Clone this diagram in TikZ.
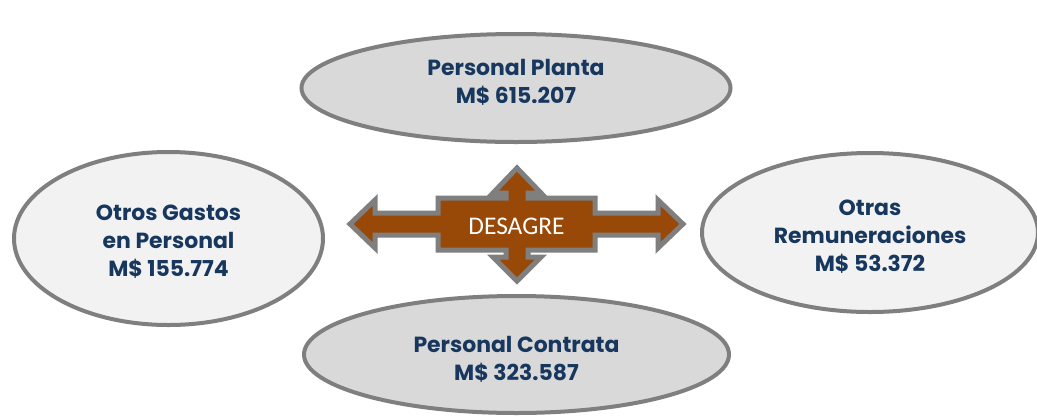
\documentclass[tikz,border=0pt]{standalone}
\usepackage{fontspec}
\setmainfont{Poppins}
\newfontfamily\arrowfont{Carlito}
\usetikzlibrary{shapes.geometric}
\definecolor{rimgray}{HTML}{7F7F7F}
\definecolor{darkfill}{HTML}{D9D9D9}
\definecolor{lightfill}{HTML}{F2F2F2}
\definecolor{navytext}{HTML}{17375E}
\definecolor{rustbrown}{HTML}{984807}

\begin{document}
\begin{tikzpicture}[x=1bp,y=-1bp,
    bubble/.style={ellipse,draw=rimgray,line width=4bp,inner sep=0pt},
    bubbletext/.style={align=center,text=navytext,font=\fontsize{22}{28}\selectfont\bfseries},
    cross/.style={fill=rustbrown,draw=rimgray,line width=5bp,line join=miter}]
            \useasboundingbox[fill=white] (0,0) rectangle (1037,417);

            % four ellipses
            \node[bubble,fill=darkfill,minimum width=429bp,minimum height=108bp] (planta) at (516,88) {};
            \node[bubble,fill=lightfill,minimum width=309bp,minimum height=173bp] (otros) at (168.5,238.5) {};
            \node[bubble,fill=lightfill,minimum width=336bp,minimum height=159bp] (remun) at (870,232.5) {};
            \node[bubble,fill=darkfill,minimum width=425bp,minimum height=117bp] (contrata) at (516.5,354.5) {};

            \node[bubbletext] (planta-txt) at ([yshift=6bp]planta) {Personal Planta\\M\$ 615.207};
            \node[bubbletext] (otros-txt) at ([yshift=-3bp]otros) {Otros Gastos\\en Personal\\M\$ 155.774};
            \node[bubbletext] (remun-txt) at ([yshift=-4bp]remun) {Otras\\Remuneraciones\\M\$ 53.372};
            \node[bubbletext] (contrata-txt) at ([yshift=-5bp]contrata) {Personal Contrata\\M\$ 323.587};

            % cross arrow in the middle
            \draw[cross] (350,224) -- (375,200) -- (375,213) -- (438,213) -- (438,198)
                -- (506,198) -- (506,193) -- (493,193) -- (517,168) -- (541,193)
                -- (528,193) -- (528,198) -- (595,198) -- (595,213) -- (658,213)
                -- (658,200) -- (683,224) -- (658,248) -- (658,235) -- (595,235)
                -- (595,250) -- (528,250) -- (528,257) -- (541,257) -- (517,281)
                -- (493,257) -- (506,257) -- (506,250) -- (438,250) -- (438,235)
                -- (375,235) -- (375,248) -- cycle;
            \node[text=white,font=\arrowfont\fontsize{25.5}{26}\selectfont] (desagre) at (516.5,226) {DESAGRE};
        \end{tikzpicture}
\end{document}
